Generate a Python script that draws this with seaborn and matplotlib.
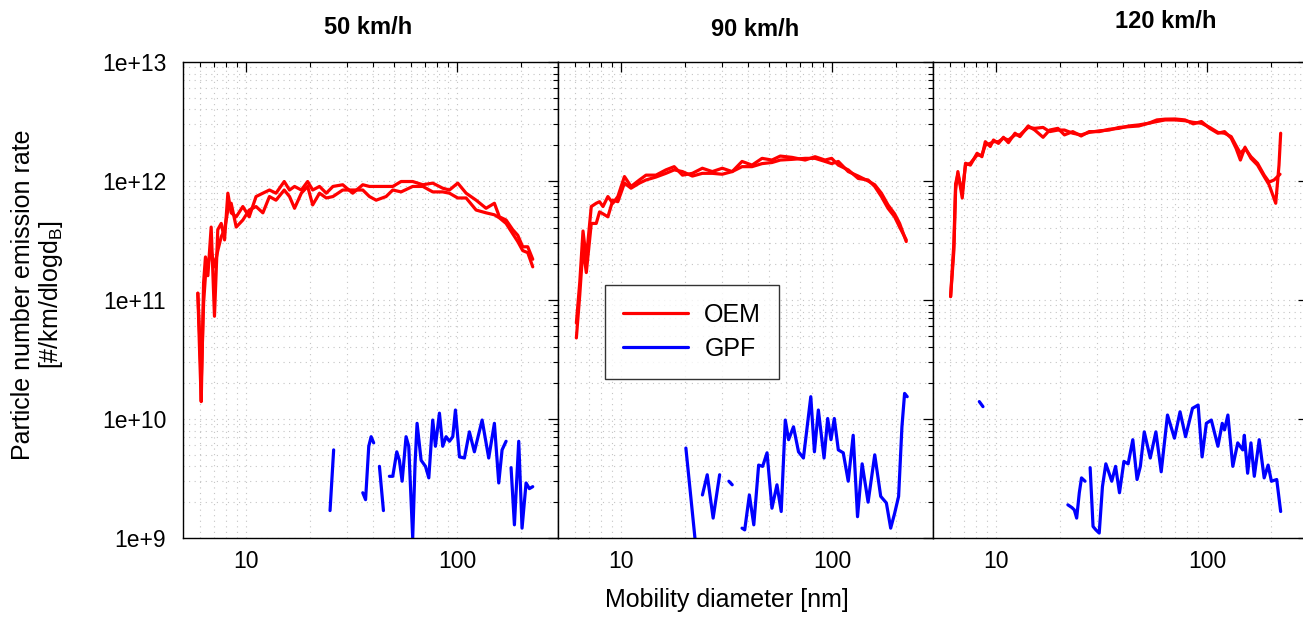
import numpy as np
import pandas as pd
import matplotlib
matplotlib.use("Agg")
import matplotlib.pyplot as plt
import seaborn as sns
from matplotlib.ticker import LogLocator, FuncFormatter, NullFormatter
from matplotlib.lines import Line2D

# ---------------- data ----------------
speeds = ["50 km/h", "90 km/h", "120 km/h"]
series_names = ["OEM", "GPF"]
OEM_SCALE = 1e11
GPF_SCALE = 1e9

# 50 km/h, OEM (two repetitions), units of 1e11
d_oem_50 = [5.88, 5.99, 6.10, 6.26, 6.39, 6.56, 6.80, 7.05, 7.31, 7.59, 7.87, 8.16, 8.46, 8.94,
            9.61, 10.3, 11.1, 11.96, 12.85, 13.8, 15.1, 16.0, 16.9, 18.2, 19.5, 20.6, 22.2, 23.9,
            25.7, 28.6, 31.9, 35.6, 38.3, 41.2, 45.9, 49.4, 54.1, 61.4, 68.6, 76.4, 85.2, 91.7,
            100.4, 110, 122.7, 136.8, 149.8, 158.2, 170.2, 183.0, 193.3, 204.1, 215.6, 227.7]
oem_50_run1 = [1.14, 0.38, 0.14, 1.4, 2.3, 1.6, 4.1, 0.73, 3.9, 4.4, 3.2, 7.9, 5.4, 5.0, 6.1, 5.0,
               7.4, 7.9, 8.4, 7.9, 9.9, 8.4, 9.0, 8.4, 9.9, 8.4, 9.0, 7.9, 9.0, 9.3, 7.9, 9.3, 9.0,
               9.0, 9.0, 9.0, 9.9, 9.9, 9.3, 9.6, 8.7, 8.4, 9.6, 7.9, 6.9, 5.9, 6.5, 5.0, 4.7, 3.9,
               3.5, 2.8, 2.8, 2.2]
oem_50_run2 = [1.14, 0.53, 0.2, 0.94, 1.6, 2.0, 2.6, 1.9, 2.6, 3.4, 3.9, 5.7, 6.5, 4.1, 4.7, 5.7,
               6.1, 5.4, 7.4, 6.9, 8.4, 7.4, 5.9, 7.9, 9.0, 6.3, 7.9, 7.2, 7.4, 8.4, 8.4, 8.4, 7.4,
               6.9, 7.4, 8.4, 8.1, 9.0, 9.0, 8.1, 8.1, 7.9, 7.2, 7.2, 5.7, 5.4, 5.2, 4.9, 4.4, 3.6,
               3.1, 2.6, 2.5, 1.9]

# 90 km/h, OEM
d_oem_90 = [6.11, 6.34, 6.57, 6.81, 7.19, 7.59, 7.87, 8.17, 8.62, 9.10, 9.61, 10.33, 11.1, 12.16,
            13.07, 14.57, 16.24, 17.78, 19.46, 21.69, 24.18, 26.96, 30.05, 33.5, 37.3, 41.6, 46.4,
            51.7, 56.6, 64.3, 74.3, 82.8, 92.3, 99.2, 106.7, 118.9, 132.6, 147.7, 158.8, 170.8,
            183.5, 197.3, 208.4, 224.0]
oem_90_run1 = [0.64, 1.4, 3.8, 2.2, 6.1, 6.5, 6.7, 6.1, 7.4, 6.5, 7.4, 10.9, 9.0, 10.2, 11.2, 11.2,
               12.4, 13.2, 11.2, 11.6, 12.8, 12.0, 12.8, 12.0, 14.6, 13.6, 15.5, 15.0, 16.2, 15.8,
               15.0, 16.0, 15.0, 15.5, 13.6, 12.4, 10.5, 10.2, 9.0, 7.4, 5.9, 5.0, 4.1, 3.2]
oem_90_run2 = [0.48, 1.1, 2.8, 1.7, 4.4, 4.4, 5.5, 5.3, 5.0, 6.9, 6.7, 9.6, 8.7, 9.6, 10.2, 10.8,
               11.6, 12.4, 12.0, 11.0, 11.6, 11.6, 11.4, 12.0, 13.2, 13.2, 14.0, 14.3, 15.0, 15.2,
               15.5, 15.5, 14.6, 14.0, 14.6, 12.0, 11.0, 10.0, 9.3, 7.9, 6.3, 5.3, 4.4, 3.1]

# 120 km/h, OEM
d_oem_120_run1 = [6.06, 6.28, 6.40, 6.56, 6.88, 7.13, 7.52, 8.09, 8.53, 8.85, 9.34, 9.68, 10.22,
                  10.79, 11.39, 12.24, 12.91, 14.13, 15.19, 16.63, 17.87, 19.55, 21.0, 23.0, 25.2,
                  27.5, 30.7, 34.2, 38.1, 42.4, 47.3, 52.7, 57.6, 63.1, 70.3, 78.3, 85.7, 93.7,
                  102.6, 112.2, 120.6, 129.7, 136.8, 143.4, 150.8, 160.9, 172.9, 185.9, 196.2,
                  210.9, 218.6, 222.6]
oem_120_run1 = [1.07, 2.6, 8.4, 12.0, 7.2, 14.1, 13.6, 17.1, 16.0, 21.4, 19.5, 22.1, 20.7, 23.3,
                21.0, 25.2, 23.6, 29.0, 26.8, 23.3, 26.8, 27.7, 24.4, 26.0, 23.9, 26.0, 26.0, 27.2,
                27.7, 29.0, 29.6, 30.6, 32.6, 33.1, 33.2, 32.6, 30.2, 31.6, 27.7, 25.2, 26.0, 22.9,
                18.8, 15.0, 19.2, 15.5, 13.6, 10.9, 9.3, 6.5, 13.6, 25.2]
d_oem_120_run2 = [6.06, 6.28, 6.40, 6.56, 6.88, 7.13, 7.52, 8.09, 8.53, 8.85, 9.34, 9.68, 10.22,
                  10.79, 11.39, 12.24, 12.91, 14.13, 15.19, 16.63, 17.87, 19.55, 21.0, 23.0, 25.2,
                  27.5, 30.7, 34.2, 38.1, 42.4, 47.3, 52.7, 57.6, 63.1, 70.3, 78.3, 85.7, 93.7,
                  102.6, 112.2, 120.6, 129.7, 136.8, 143.4, 150.8, 160.9, 172.9, 185.9, 196.2,
                  207.1, 221.0]
oem_120_run2 = [1.07, 3.0, 9.5, 11.4, 8.0, 13.6, 14.1, 16.5, 16.5, 20.0, 20.7, 21.4, 21.4, 22.9,
                22.1, 24.4, 24.4, 28.2, 27.7, 28.2, 26.0, 26.8, 26.8, 25.2, 24.4, 25.6, 26.4, 26.8,
                28.2, 28.6, 29.0, 30.6, 31.6, 32.6, 32.6, 32.1, 31.1, 30.6, 28.2, 25.6, 25.2, 23.6,
                19.8, 17.1, 18.8, 16.0, 14.1, 11.2, 9.8, 10.2, 11.4]

# GPF, segments separated where the signal was missing, units of 1e9
d_gpf_50 = [[24.9, 25.9],
            [35.6, 36.7, 38.0, 39.0, 40.1],
            [42.7, 44.6],
            [47.6, 49.4, 51.6, 53.1, 54.7, 57.1, 58.8, 61.4, 63.0, 64.4, 67.3, 70.6, 73.2, 76.4,
             78.7, 82.2, 85.2, 88.4, 91.7, 95.1, 97.9, 102.3, 108.0, 114.0, 120.4, 131.0, 140.8,
             149.8, 157.1, 162.9, 170.2],
            [179.7, 186.4, 195.4, 202.6, 211.7, 219.5, 227.7]]
gpf_50 = [[1.7, 5.5],
          [2.4, 2.1, 5.9, 7.1, 6.3],
          [4.0, 1.7],
          [3.3, 3.3, 5.3, 4.5, 3.0, 7.1, 5.9, 1.0, 4.2, 9.2, 4.5, 4.0, 3.2, 9.8, 5.9, 11.2, 5.9,
           7.1, 6.5, 7.1, 11.9, 4.8, 4.7, 7.8, 5.3, 9.8, 4.7, 9.2, 2.9, 5.5, 6.5],
          [3.9, 1.29, 6.5, 1.21, 2.9, 2.6, 2.7]]

d_gpf_90 = [[20.2, 22.3],
            [24.2, 25.5, 27.2, 29.2],
            [32.3, 33.5],
            [37.3, 38.4, 40.4, 42.4, 44.7, 46.7, 49.0, 51.7, 54.6, 57.2, 59.8, 62.0, 65.4, 69.1,
             72.9, 79.0, 82.2, 85.8, 91.3, 95.0, 98.5, 102.1, 106.7, 112.6, 118.9, 125.5, 131.6,
             138.4, 147.7, 158.8, 169.5, 180.3, 189.0, 197.3, 206.1, 213.7, 220.0, 226.4]]
gpf_90 = [[5.7, 1.0],
          [2.3, 3.4, 1.47, 3.4],
          [3.0, 2.8],
          [1.21, 1.17, 2.3, 1.29, 4.1, 4.0, 5.2, 1.78, 2.8, 1.67, 9.8, 6.7, 8.6, 5.3, 4.7, 15.4,
           5.3, 11.9, 4.7, 10.1, 6.7, 10.1, 5.5, 5.2, 3.0, 7.3, 1.51, 4.2, 2.0, 5.0, 2.24, 1.97,
           1.21, 1.61, 2.24, 8.6, 16.4, 15.4]]

d_gpf_120 = [[8.29, 8.63],
             [21.8, 22.8, 23.4, 24.0, 24.7, 25.3, 26.3],
             [27.8, 28.7, 29.6, 30.7, 31.8, 33.0, 34.2, 35.2, 36.7, 38.3, 40.2, 42.1, 44.3, 46.4,
              48.1, 50.2, 53.6, 57.0, 60.4, 64.7, 69.8, 74.2, 78.8, 85.0, 90.4, 94.4, 98.9,
              104.4, 112.2, 117.6, 120.6, 125.1, 132.0, 139.3, 147.1, 149.7, 155.2, 160.9,
              166.9, 176.1, 185.9, 194.1, 201.2, 213.2, 222.6]]
gpf_120 = [[14.0, 12.7],
           [1.90, 1.80, 1.72, 1.47, 2.4, 3.2, 3.0],
           [3.9, 1.25, 1.17, 1.10, 2.7, 4.2, 3.5, 3.0, 4.0, 2.4, 4.4, 4.2, 6.7, 3.1, 4.0, 7.8,
            4.7, 7.8, 3.6, 10.8, 6.9, 11.5, 7.1, 12.3, 13.1, 4.8, 9.2, 9.8, 5.9, 9.2, 8.1, 10.8,
            4.0, 6.3, 5.5, 7.3, 3.5, 6.3, 3.3, 6.7, 3.2, 4.1, 3.0, 3.1, 1.67]]

y_ticks = [1e9, 1e10, 1e11, 1e12, 1e13]
x_ticks = [10, 100]

# ---------------- tidy table ----------------
rows = []


def add(panel, series, unit, d, n, scale):
    for x, y in zip(d, n):
        rows.append({"panel": panel, "series": series, "unit": unit, "d": x, "N": y * scale})


oem_sets = [
    [(d_oem_50, oem_50_run1), (d_oem_50, oem_50_run2)],
    [(d_oem_90, oem_90_run1), (d_oem_90, oem_90_run2)],
    [(d_oem_120_run1, oem_120_run1), (d_oem_120_run2, oem_120_run2)],
]
gpf_sets = [(d_gpf_50, gpf_50), (d_gpf_90, gpf_90), (d_gpf_120, gpf_120)]

for p, sp in enumerate(speeds):
    for k, (d, n) in enumerate(oem_sets[p]):
        add(sp, "OEM", f"OEM{k}", d, n, OEM_SCALE)
    for k, (d, n) in enumerate(zip(*gpf_sets[p])):
        add(sp, "GPF", f"GPF{k}", d, n, GPF_SCALE)

df = pd.DataFrame(rows)

# ---------------- figure ----------------
sns.set_theme(style="white")
plt.rcParams["font.family"] = ["Liberation Sans", "DejaVu Sans"]
plt.rcParams["mathtext.default"] = "regular"
for key in ["text.color", "axes.labelcolor", "xtick.color", "ytick.color", "axes.edgecolor"]:
    plt.rcParams[key] = "black"

W, H = 1303, 617
fig = plt.figure(figsize=(W / 100, H / 100), dpi=100)
palette = {"OEM": "#ff0000", "GPF": "#0000ff"}

ax_left = [183, 558, 933]
ax_w = 375
ax_top, ax_bot = 62, 538

axes = []
for i, sp in enumerate(speeds):
    ax = fig.add_axes([ax_left[i] / W, 1 - ax_bot / H, ax_w / W, (ax_bot - ax_top) / H])
    sub = df[df["panel"] == sp]
    sns.lineplot(data=sub, x="d", y="N", hue="series", units="unit", estimator=None,
                 sort=False, palette=palette, linewidth=2.3, legend=False, ax=ax)
    ax.set_xscale("log")
    ax.set_yscale("log")
    ax.set_xlim(5, 300)
    ax.set_ylim(1e9, 1e13)
    ax.set_xticks(x_ticks)
    ax.xaxis.set_major_formatter(FuncFormatter(lambda v, pos: f"{v:g}"))
    ax.xaxis.set_minor_locator(LogLocator(base=10, subs=np.arange(2, 10)))
    ax.xaxis.set_minor_formatter(NullFormatter())
    ax.set_yticks(y_ticks)
    ax.yaxis.set_major_formatter(FuncFormatter(lambda v, pos: f"1e+{int(round(np.log10(v)))}"))
    ax.yaxis.set_minor_locator(LogLocator(base=10, subs=np.arange(2, 10)))
    ax.yaxis.set_minor_formatter(NullFormatter())
    ax.grid(True, which="both", linestyle=(0, (1, 4)), color="#c4c4c4", linewidth=0.8)
    ax.tick_params(which="both", direction="in", top=True, right=True, colors="black",
                   labelsize=16.5, labelcolor="black")
    ax.tick_params(which="major", length=7, width=0.9)
    ax.tick_params(which="minor", length=3.5, width=0.8)
    ax.tick_params(axis="y", pad=12)
    ax.tick_params(axis="x", pad=9)
    if i > 0:
        ax.tick_params(axis="y", labelleft=False)
    ax.set_xlabel("")
    ax.set_ylabel("")
    for s in ax.spines.values():
        s.set_color("black")
        s.set_linewidth(1.0)
    ax.set_facecolor("white")
    axes.append(ax)

# panel titles
title_pos = [(368, 28), (755, 30), (1166, 22)]
for sp, (tx, ty) in zip(speeds, title_pos):
    fig.text(tx / W, 1 - ty / H, sp, ha="center", va="center", fontsize=17,
             fontweight="bold", color="black")

fig.text(727 / W, 1 - 600 / H, "Mobility diameter [nm]", ha="center", va="center",
         fontsize=18, color="black")
fig.text(38 / W, 1 - 295 / H, "Particle number emission rate\n[#/km/dlogd$_B$]",
         ha="center", va="center", rotation=90, fontsize=18, multialignment="center",
         linespacing=1.1, color="black")

handles = [Line2D([], [], color=palette[s], lw=2.3) for s in series_names]
leg = axes[1].legend(handles, series_names, loc="upper left",
                     bbox_to_anchor=(605 / W, 1 - 285 / H), bbox_transform=fig.transFigure,
                     borderaxespad=0, frameon=True, fancybox=False, fontsize=18,
                     handlelength=2.6, handletextpad=0.65, labelspacing=0.38,
                     borderpad=0.72)
leg.get_frame().set_edgecolor("black")
leg.get_frame().set_linewidth(1.0)
for t in leg.get_texts():
    t.set_color("black")

fig.savefig("out.png", dpi=100, facecolor="white")
